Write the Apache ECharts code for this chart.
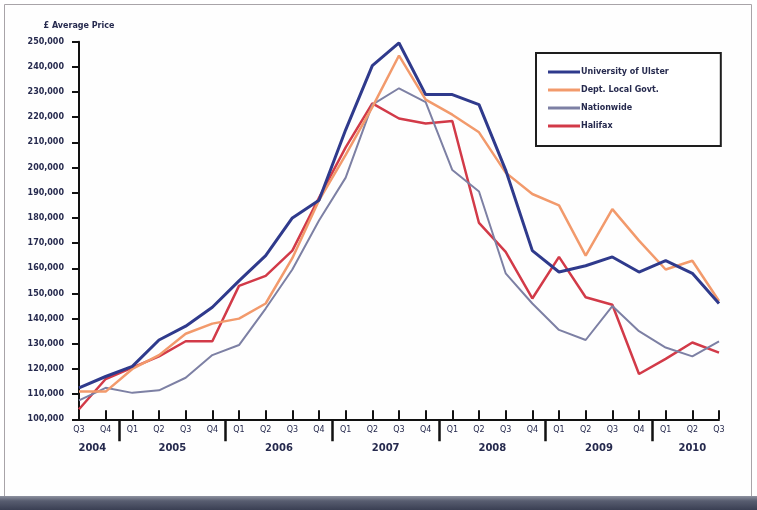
<!DOCTYPE html>
<html>
<head>
<meta charset="utf-8">
<title>Average House Price</title>
<script src="https://cdn.jsdelivr.net/npm/echarts@6/dist/echarts.min.js"></script>
<style>
  html, body { margin: 0; padding: 0; background: #ffffff; }
  #chart { width: 757px; height: 510px; }
</style>
</head>
<body>
<div id="chart"></div>
<script>
// Quarterly periods, Q3 2004 to Q3 2010
const periods = [
  '2004 Q3', '2004 Q4',
  '2005 Q1', '2005 Q2', '2005 Q3', '2005 Q4',
  '2006 Q1', '2006 Q2', '2006 Q3', '2006 Q4',
  '2007 Q1', '2007 Q2', '2007 Q3', '2007 Q4',
  '2008 Q1', '2008 Q2', '2008 Q3', '2008 Q4',
  '2009 Q1', '2009 Q2', '2009 Q3', '2009 Q4',
  '2010 Q1', '2010 Q2', '2010 Q3'
];

// Average price (GBP) by source
const universityOfUlster = [
  112500, 117000, 121000, 131500, 137000, 144500, 155000, 165000, 180000, 187000,
  215000, 240500, 249500, 229000, 229000, 225000, 199000, 167000, 158500, 161000,
  164500, 158500, 163000, 158000, 146000
];
const deptLocalGovt = [
  111000, 111000, 120000, 125500, 134000, 138000, 140000, 146000, 164000, 187000,
  205000, 224000, 244500, 227000, 221000, 214000, 198000, 189500, 185000, 165000,
  183500, 171000, 159500, 163000, 147000
];
const nationwide = [
  107500, 112500, 110500, 111500, 116500, 125500, 129500, 144000, 159500, 179000,
  196000, 225000, 231500, 226000, 199000, 190500, 158000, 146000, 135500, 131500,
  145000, 135000, 128500, 125000, 131000
];
const halifax = [
  104000, 116000, 120500, 125000, 131000, 131000, 153000, 157000, 167000, 188000,
  208000, 225500, 219500, 217500, 218500, 178000, 166500, 148000, 164500, 148500,
  145500, 118000, 124000, 130500, 126500
];

const seriesNames = ['University of Ulster', 'Dept. Local Govt.', 'Nationwide', 'Halifax'];
const seriesColors = ['#2f3a8c', '#f29a6c', '#7d80a4', '#d23a48'];
const seriesWidths = [3, 2.5, 2, 2.5];
const seriesData = [universityOfUlster, deptLocalGovt, nationwide, halifax];

// Year groups: separators between years, labels centred under each year's quarters
const yearGroups = [];
periods.forEach((p, i) => {
  const y = p.split(' ')[0];
  const last = yearGroups[yearGroups.length - 1];
  if (!last || last.year !== y) yearGroups.push({ year: y, first: i, last: i });
  else last.last = i;
});
const yearCentres = yearGroups.map(g => (g.first + g.last) / 2);
const yearSeparators = yearGroups.slice(1).map(g => g.first - 0.5);

const FONT = 'DejaVu Sans';
const TEXT = '#262a4e';

const chart = echarts.init(document.getElementById('chart'), null, { renderer: 'canvas' });

chart.setOption({
  animation: false,
  backgroundColor: '#ffffff',
  graphic: [
    { type: 'rect', z: -10, shape: { x: 4.5, y: 4.5, width: 747, height: 492 },
      style: { fill: '#fefefe', stroke: '#a8a4a8', lineWidth: 1 } },
    { type: 'rect', z: -9, shape: { x: 0, y: 496, width: 757, height: 14 },
      style: { fill: new echarts.graphic.LinearGradient(0, 0, 0, 1, [
        { offset: 0, color: '#8e92a0' },
        { offset: 0.35, color: '#585d70' },
        { offset: 1, color: '#3a3f53' }
      ]) } }
  ],
  grid: { left: 79, top: 41.7, width: 640, height: 377.6, containLabel: false },
  legend: {
    data: seriesNames,
    orient: 'vertical',
    left: 536, top: 53,
    padding: [13, 52, 14, 12],
    itemGap: 6,
    itemWidth: 32, itemHeight: 3,
    icon: 'rect',
    backgroundColor: '#ffffff',
    borderColor: '#1e1e1e', borderWidth: 2,
    textStyle: { fontFamily: FONT, fontSize: 8, fontWeight: 'bold', color: TEXT, lineHeight: 12, padding: [0, 0, 0, -4] }
  },
  xAxis: [
    {
      type: 'category',
      data: periods,
      boundaryGap: false,
      position: 'bottom',
      axisLine: { lineStyle: { color: '#111', width: 2 } },
      axisTick: { inside: true, length: 9, interval: 0, lineStyle: { color: '#111', width: 2 } },
      axisLabel: {
        interval: 0, margin: 7,
        fontFamily: FONT, fontSize: 8, color: TEXT,
        formatter: v => v.split(' ')[1]
      },
      splitLine: { show: false }
    },
    {
      type: 'value',
      min: 0, max: periods.length - 1,
      position: 'bottom',
      axisLine: { show: false },
      axisTick: { show: true, length: 22, customValues: yearSeparators,
                  lineStyle: { color: '#111', width: 2.5 } },
      axisLabel: {
        margin: 24,
        customValues: yearCentres,
        fontFamily: FONT, fontSize: 10, fontWeight: 'bold', color: TEXT,
        formatter: v => {
          const k = yearCentres.findIndex(c => Math.abs(c - v) < 1e-6);
          return k >= 0 ? yearGroups[k].year : '';
        }
      },
      splitLine: { show: false }
    }
  ],
  yAxis: {
    type: 'value',
    min: 100000, max: 250000, interval: 10000,
    name: '£ Average Price',
    nameLocation: 'end',
    nameGap: 12,
    nameTextStyle: { fontFamily: FONT, fontSize: 8, fontWeight: 'bold', color: TEXT, align: 'center' },
    axisLine: { show: true, lineStyle: { color: '#111', width: 2 } },
    axisTick: { show: true, length: 7, lineStyle: { color: '#111', width: 2 } },
    axisLabel: {
      margin: 15,
      fontFamily: FONT, fontSize: 8, fontWeight: 'bold', color: TEXT,
      formatter: v => v.toLocaleString('en-GB')
    },
    splitLine: { show: false }
  },
  series: seriesNames.map((name, i) => ({
    name,
    type: 'line',
    data: seriesData[i],
    showSymbol: false,
    symbol: 'none',
    color: seriesColors[i],
    lineStyle: { color: seriesColors[i], width: seriesWidths[i] },
    z: 10 - i
  }))
});
</script>
</body>
</html>
